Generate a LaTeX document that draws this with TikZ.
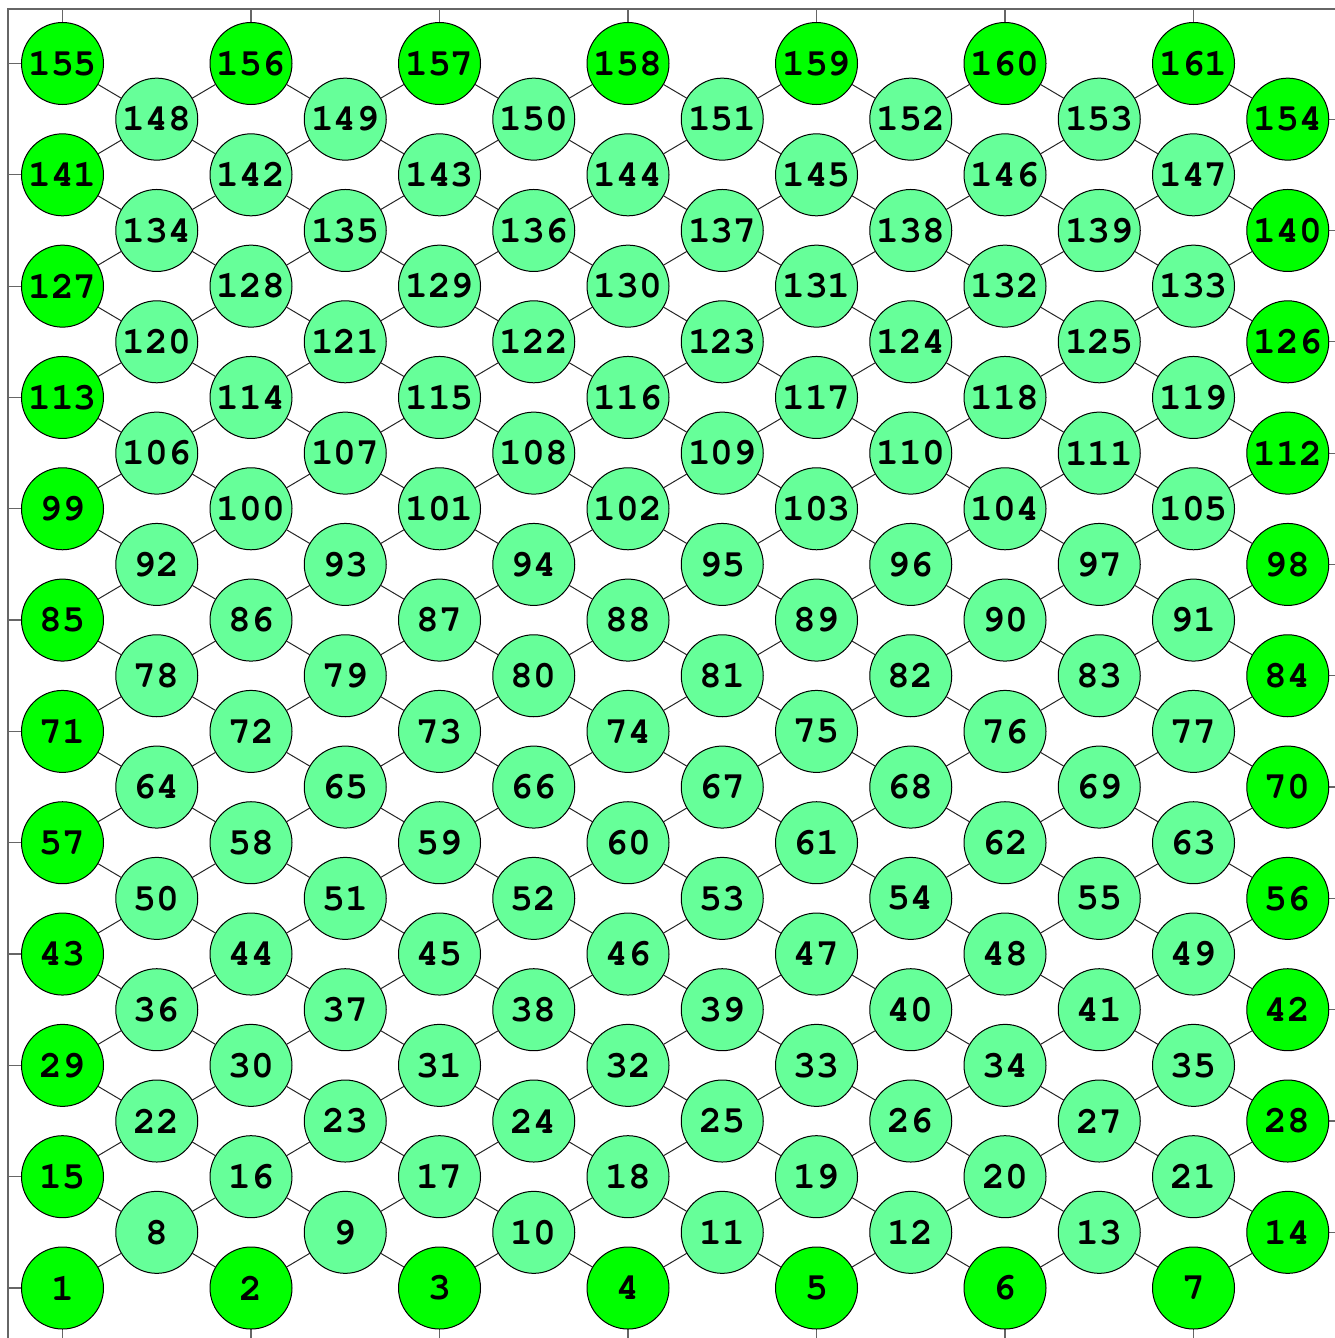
\documentclass[tikz,border=0pt]{standalone}
\usepackage{fontspec}
\newfontfamily\numfont{TeX Gyre Cursor}
\definecolor{brightgreen}{RGB}{0,255,0}
\definecolor{lightgreen}{RGB}{102,255,153}
\begin{document}
\begin{tikzpicture}[x=1pt,y=-1pt,
  vert/.style={circle, draw=black, line width=1pt, minimum size=82pt, inner sep=0pt, outer sep=0pt,
    font=\numfont\bfseries\fontsize{38}{40}\selectfont},
  innerv/.style={vert, fill=lightgreen},
  outerv/.style={vert, fill=brightgreen},
  link/.style={draw=black!85, line width=1pt},
  framebox/.style={draw=black!60, line width=1.6pt},
  tickmark/.style={draw=black!60, line width=1.2pt}]
\useasboundingbox (0,0) rectangle (1335,1338);
\begin{scope}
  \clip (0,0) rectangle (1335,1338);
  \draw[framebox] (8,9) rectangle (1341.5,1342.5);
  \foreach \c in {0,...,6}{
    \pgfmathsetmacro\xx{62.5+188.5*\c}
    \draw[tickmark] (\xx,9) -- ++(0,14);
    \draw[tickmark] (\xx,1342.5) -- ++(0,-14);
  }
  \foreach \r in {0,2,...,22}{
    \pgfmathsetmacro\yy{63.5+55.659*(22-\r)}
    \draw[tickmark] (8,\yy) -- ++(14,0);
  }
  \foreach \r in {1,3,...,21}{
    \pgfmathsetmacro\yy{63.5+55.659*(22-\r)}
    \draw[tickmark] (1341.5,\yy) -- ++(-14,0);
  }
\end{scope}
\foreach \r in {0,...,22}{
  \foreach \c in {0,...,6}{
    \pgfmathtruncatemacro\id{7*\r+\c+1}
    \ifodd\r
      \pgfmathsetmacro\xx{156.75+188.5*\c}
      \ifnum\c=6 \def\sty{outerv}\else\def\sty{innerv}\fi
    \else
      \pgfmathsetmacro\xx{62.5+188.5*\c}
      \ifnum\c=0 \def\sty{outerv}\else\def\sty{innerv}\fi
      \ifnum\r=0 \def\sty{outerv}\fi
      \ifnum\r=22 \def\sty{outerv}\fi
    \fi
    \pgfmathsetmacro\yy{63.5+55.659*(22-\r)}
    \node[\sty] (n\id) at (\xx,\yy) {\id};
  }
}
\foreach \r in {1,3,...,21}{
  \foreach \c in {0,...,6}{
    \pgfmathtruncatemacro\a{7*\r+\c+1}
    \pgfmathtruncatemacro\bl{\a-7}
    \pgfmathtruncatemacro\tl{\a+7}
    \draw[link] (n\a) -- (n\bl);
    \draw[link] (n\a) -- (n\tl);
    \ifnum\c<6
      \pgfmathtruncatemacro\br{\a-6}
      \pgfmathtruncatemacro\tr{\a+8}
      \draw[link] (n\a) -- (n\br);
      \draw[link] (n\a) -- (n\tr);
    \fi
  }
}
\end{tikzpicture}
\end{document}
